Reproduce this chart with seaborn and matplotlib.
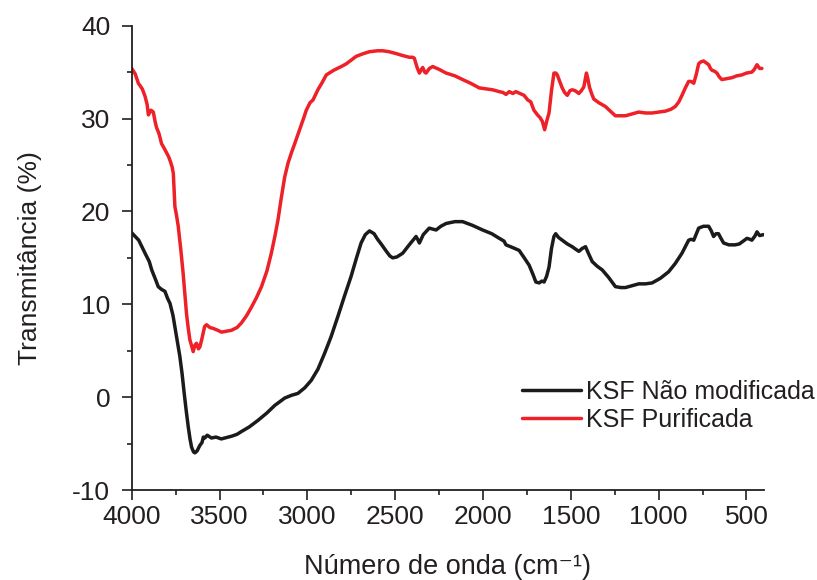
import numpy as np
import pandas as pd
import matplotlib
matplotlib.use("Agg")
import matplotlib.pyplot as plt
from matplotlib.ticker import MultipleLocator
import seaborn as sns

# ---- data ----
wn_black = [4000, 3960, 3924, 3900, 3886, 3865, 3849, 3830, 3811, 3795, 3782, 3765, 3754, 3740, 3726,
            3713, 3701, 3690, 3678, 3668, 3659, 3648, 3640, 3628, 3612, 3600, 3592, 3584, 3570, 3546,
            3520, 3490, 3470, 3430, 3400, 3375, 3330, 3281, 3230, 3186, 3150, 3129, 3090, 3054, 3015,
            2978, 2940, 2902, 2865, 2826, 2790, 2751, 2720, 2694, 2670, 2646, 2620, 2600, 2580, 2550,
            2530, 2514, 2490, 2457, 2420, 2381, 2372, 2362, 2340, 2306, 2267, 2240, 2210, 2160, 2116,
            2060, 2002, 1950, 1907, 1880, 1869, 1830, 1794, 1765, 1737, 1715, 1699, 1680, 1665, 1652,
            1638, 1624, 1610, 1596, 1586, 1570, 1549, 1520, 1492, 1470, 1454, 1436, 1416, 1400, 1378,
            1350, 1321, 1285, 1246, 1215, 1189, 1150, 1113, 1075, 1037, 990, 943, 905, 867, 848,
            829, 815, 800, 785, 772, 745, 715, 700, 687, 673, 659, 645, 630, 600, 564,
            540, 526, 497, 480, 469, 450, 440, 425, 402]
t_black = [17.7, 16.9, 15.5, 14.6, 13.7, 12.7, 11.9, 11.6, 11.4, 10.6, 10.1, 8.8, 7.6, 6.0, 4.4,
           2.5, 0.4, -1.4, -3.2, -4.5, -5.4, -5.9, -6.0, -5.8, -5.2, -4.9, -4.3, -4.4, -4.1, -4.4,
           -4.3, -4.5, -4.4, -4.2, -4.0, -3.7, -3.2, -2.5, -1.7, -0.9, -0.4, -0.1, 0.2, 0.4, 1.0,
           1.8, 3.0, 4.7, 6.5, 8.7, 10.8, 13.0, 15.0, 16.6, 17.5, 17.9, 17.6, 17.0, 16.5, 15.7,
           15.2, 15.0, 15.1, 15.5, 16.4, 17.3, 17.0, 16.6, 17.5, 18.2, 18.0, 18.4, 18.7, 18.9, 18.9,
           18.5, 18.0, 17.6, 17.1, 16.8, 16.4, 16.1, 15.8, 15.0, 14.2, 13.2, 12.4, 12.3, 12.5, 12.4,
           13.0, 14.0, 16.0, 17.3, 17.6, 17.2, 16.9, 16.5, 16.2, 15.9, 15.7, 16.0, 16.2, 15.5, 14.6,
           14.1, 13.7, 12.9, 11.9, 11.8, 11.8, 12.0, 12.2, 12.2, 12.3, 12.8, 13.5, 14.4, 15.5, 16.2,
           16.9, 17.0, 16.9, 17.6, 18.2, 18.4, 18.4, 17.9, 17.3, 17.6, 17.6, 17.1, 16.6, 16.4, 16.4,
           16.5, 16.7, 17.1, 17.0, 16.9, 17.4, 17.8, 17.4, 17.5]

wn_red = [4000, 3980, 3962, 3940, 3924, 3912, 3905, 3890, 3877, 3866, 3858, 3845, 3830, 3815, 3801,
          3790, 3782, 3770, 3763, 3758, 3754, 3745, 3735, 3720, 3707, 3697, 3688, 3678, 3669, 3660,
          3650, 3640, 3631, 3620, 3612, 3600, 3593, 3585, 3574, 3555, 3536, 3510, 3489, 3460, 3432,
          3400, 3375, 3345, 3318, 3290, 3261, 3230, 3205, 3185, 3167, 3148, 3129, 3110, 3091, 3070,
          3044, 3020, 3006, 2985, 2968, 2940, 2915, 2892, 2850, 2807, 2778, 2750, 2722, 2680, 2646,
          2600, 2571, 2535, 2495, 2460, 2419, 2400, 2391, 2375, 2362, 2350, 2343, 2332, 2324, 2305,
          2286, 2250, 2210, 2160, 2116, 2070, 2021, 1985, 1946, 1907, 1885, 1869, 1850, 1830, 1813,
          1790, 1766, 1745, 1728, 1710, 1690, 1675, 1662, 1649, 1636, 1624, 1610, 1596, 1585, 1577,
          1563, 1549, 1535, 1520, 1505, 1492, 1475, 1454, 1440, 1426, 1418, 1411, 1403, 1394, 1380,
          1369, 1340, 1303, 1275, 1246, 1215, 1189, 1150, 1113, 1075, 1037, 1000, 961, 930, 905,
          885, 867, 848, 829, 815, 800, 785, 772, 760, 744, 730, 715, 705, 696, 682,
          668, 655, 640, 610, 583, 555, 526, 500, 469, 455, 440, 425, 412]
t_red = [35.4, 34.8, 33.8, 33.2, 32.4, 31.5, 30.4, 30.9, 30.7, 29.6, 29.0, 28.4, 27.3, 26.8, 26.3,
         25.9, 25.5, 24.8, 24.1, 22.0, 20.5, 19.6, 18.4, 15.8, 13.3, 11.0, 9.0, 7.4, 6.2, 5.6,
         4.9, 5.6, 5.8, 5.2, 5.4, 6.3, 6.9, 7.6, 7.8, 7.5, 7.4, 7.2, 7.0, 7.1, 7.2,
         7.5, 8.0, 8.8, 9.7, 10.7, 11.9, 13.6, 15.5, 17.3, 19.1, 21.5, 23.7, 25.2, 26.3, 27.4,
         28.8, 30.1, 30.9, 31.7, 32.0, 33.1, 33.9, 34.7, 35.2, 35.6, 35.9, 36.3, 36.7, 37.0, 37.2,
         37.3, 37.3, 37.2, 37.0, 36.8, 36.6, 36.6, 36.5, 35.5, 34.9, 35.3, 35.5, 35.0, 34.9, 35.4,
         35.6, 35.3, 34.9, 34.6, 34.2, 33.8, 33.3, 33.2, 33.1, 32.9, 32.8, 32.6, 32.9, 32.7, 32.9,
         32.7, 32.5, 32.0, 31.8, 30.9, 30.4, 30.1, 29.7, 28.8, 29.8, 30.6, 33.0, 34.9, 34.9, 34.7,
         34.0, 33.3, 32.8, 32.5, 33.0, 33.1, 33.0, 32.7, 33.0, 33.4, 34.2, 34.9, 34.3, 33.4, 32.6,
         32.1, 31.7, 31.3, 30.8, 30.3, 30.3, 30.3, 30.5, 30.7, 30.6, 30.6, 30.7, 30.8, 31.0, 31.3,
         31.8, 32.5, 33.3, 34.0, 34.0, 33.8, 34.8, 35.9, 36.1, 36.2, 36.0, 35.8, 35.4, 35.2, 35.1,
         34.9, 34.5, 34.2, 34.3, 34.4, 34.6, 34.7, 34.9, 35.0, 35.3, 35.8, 35.4, 35.4]

series_names = ["KSF Não modificada", "KSF Purificada"]
x_ticks = [4000, 3500, 3000, 2500, 2000, 1500, 1000, 500]
y_ticks = [-10, 0, 10, 20, 30, 40]

df = pd.concat([
    pd.DataFrame({"wn": wn_black, "T": t_black, "serie": series_names[0]}),
    pd.DataFrame({"wn": wn_red, "T": t_red, "serie": series_names[1]}),
], ignore_index=True)

sns.set_theme(style="ticks")
plt.rcParams["font.family"] = ["Liberation Sans", "DejaVu Sans"]

TXT = "#231f20"
fig = plt.figure(figsize=(8.17, 5.80), dpi=100)
ax = fig.add_axes([131.7 / 817, 1 - 490 / 580, (764 - 131.7) / 817, (490 - 25.7) / 580])

palette = {series_names[0]: "#1c1a1b", series_names[1]: "#ee2028"}
sns.lineplot(data=df, x="wn", y="T", hue="serie", palette=palette, estimator=None,
             linewidth=2.5, ax=ax, legend=True)

ax.set_xlim(4000, 400)
ax.set_ylim(-10, 40)
ax.set_xticks(x_ticks)
ax.set_xticklabels([str(v) for v in x_ticks])
ax.set_yticks(y_ticks)
ax.set_yticklabels([str(v) for v in y_ticks])
ax.xaxis.set_minor_locator(MultipleLocator(250))
ax.yaxis.set_minor_locator(MultipleLocator(5))

for side in ["top", "right"]:
    ax.spines[side].set_visible(False)
for side in ["left", "bottom"]:
    ax.spines[side].set_color(TXT)
    ax.spines[side].set_linewidth(1.3)

ax.tick_params(axis="both", which="major", direction="out", length=7.5, width=1.2,
               color=TXT, labelsize=19, labelcolor=TXT)
ax.tick_params(axis="x", which="major", pad=3)
ax.tick_params(axis="y", which="major", pad=8)
ax.tick_params(axis="both", which="minor", direction="out", length=3.8, width=1.2, color=TXT)

ax.set_xlabel("Número de onda (cm⁻¹)", fontsize=19.5, color=TXT)
ax.set_ylabel("Transmitância (%)", fontsize=19, color=TXT)
ax.xaxis.set_label_coords(0.5, (490 - 554) / 464.3)
ax.yaxis.set_label_coords((42 - 131.7) / 632.3, 0.5)

handles, labels = ax.get_legend_handles_labels()
leg = ax.legend(handles, labels, loc="upper left",
                bbox_to_anchor=((522 - 131.7) / 632.3, 1 - (380 - 25.7) / 464.3),
                frameon=False, fontsize=18, borderpad=0, borderaxespad=0,
                handlelength=2.35, handletextpad=0.22, labelspacing=0.15)
for t in leg.get_texts():
    t.set_color(TXT)
for h in leg.get_lines():
    h.set_linewidth(2.5)

fig.savefig("out.png", dpi=100, facecolor="white")
